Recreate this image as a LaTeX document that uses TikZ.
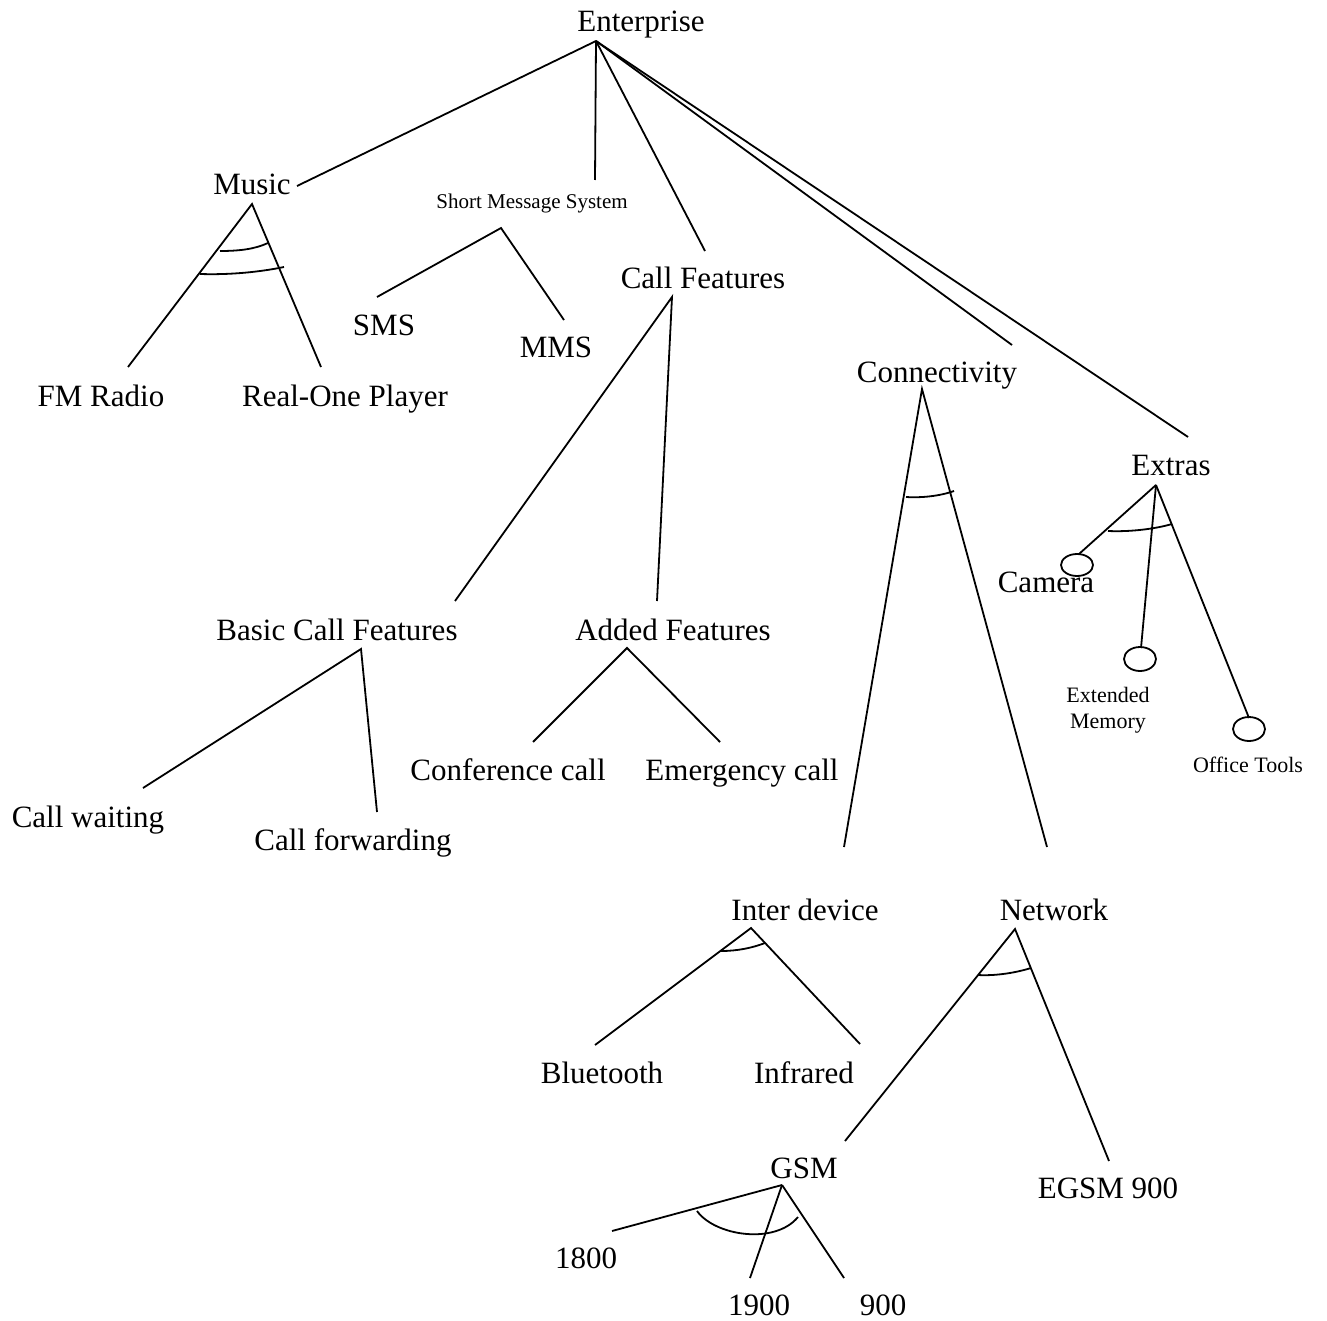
\documentclass[tikz,border=0pt]{standalone}
\usepackage{fontspec}
\setmainfont{Liberation Serif}
\begin{document}
\begin{tikzpicture}[x=1pt,y=-1pt,
  lbl/.style={anchor=base,inner sep=0pt,font=\fontsize{31}{37}\selectfont},
  slbl/.style={anchor=base,inner sep=0pt,font=\fontsize{22}{26}\selectfont},
  tlbl/.style={anchor=base,inner sep=0pt,font=\fontsize{21}{25}\selectfont},
  edge/.style={line width=1.8pt},
  arcl/.style={line width=1.8pt},
  leaf/.style={line width=1.8pt}]
\useasboundingbox (0,0) rectangle (1327,1321);
% labels
\node[lbl] (ent) at (641,32) {Enterprise};
\node[lbl] (music) at (252,195) {Music};
\node[tlbl] (sms-sys) at (532,209) {Short Message System};
\node[lbl] (sms) at (384,335) {SMS};
\node[lbl] (mms) at (556,357) {MMS};
\node[lbl] (callf) at (703,289) {Call Features};
\node[lbl] (fm) at (101,406) {FM Radio};
\node[lbl] (real) at (345,406) {Real-One Player};
\node[lbl] (conn) at (937,382) {Connectivity};
\node[lbl] (extras) at (1171,475) {Extras};
\node[lbl] (camera) at (1046,592) {Camera};
\node[slbl] (extmem) at (1108,702) {Extended};
\node[slbl] (extmem2) at (1108,728) {Memory};
\node[slbl] (office) at (1248,772) {Office Tools};
\node[lbl] (basic) at (337,640) {Basic Call Features};
\node[lbl] (added) at (673,640) {Added Features};
\node[lbl] (waiting) at (88,827) {Call waiting};
\node[lbl] (forward) at (353,850) {Call forwarding};
\node[lbl] (conf) at (508,780) {Conference call};
\node[lbl] (emerg) at (742,780) {Emergency call};
\node[lbl] (inter) at (805,920) {Inter device};
\node[lbl] (network) at (1054,920) {Network};
\node[lbl] (bt) at (602,1083) {Bluetooth};
\node[lbl] (ir) at (804,1083) {Infrared};
\node[lbl] (gsm) at (804,1178) {GSM};
\node[lbl] (egsm) at (1108,1198) {EGSM 900};
\node[lbl] (n1800) at (586,1268) {1800};
\node[lbl] (n1900) at (759,1315) {1900};
\node[lbl] (n900) at (883,1315) {900};
% connector points
\coordinate (ent-a) at (596,41);
\coordinate (music-t) at (297,186);
\coordinate (smss-t) at (595,180);
\coordinate (callf-t) at (705,251);
\coordinate (conn-t) at (1012,345);
\coordinate (extras-t) at (1188,437);
\coordinate (music-a) at (252,204);
\coordinate (fm-t) at (128,367);
\coordinate (real-t) at (321,367);
\coordinate (smss-a) at (501,228);
\coordinate (sms-t) at (377,297);
\coordinate (mms-t) at (564,320);
\coordinate (callf-a) at (672,297);
\coordinate (basic-t) at (455,601);
\coordinate (added-t) at (657,601);
\coordinate (basic-a) at (361,649);
\coordinate (waiting-t) at (143,788);
\coordinate (forward-t) at (377,812);
\coordinate (added-a) at (627,648);
\coordinate (conf-t) at (533,742);
\coordinate (emerg-t) at (720,742);
\coordinate (conn-a) at (922,389);
\coordinate (inter-t) at (844,847);
\coordinate (network-t) at (1047,847);
\coordinate (extras-a) at (1156,485);
\coordinate (camera-t) at (1079,554);
\coordinate (extmem-t) at (1141,648);
\coordinate (office-t) at (1249,718);
\coordinate (camera-c) at (1077,565);
\coordinate (extmem-c) at (1140,659);
\coordinate (office-c) at (1249,729);
\coordinate (inter-a) at (751,928);
\coordinate (bt-t) at (595,1045);
\coordinate (ir-t) at (860,1044);
\coordinate (network-a) at (1015,929);
\coordinate (gsm-t) at (845,1141);
\coordinate (egsm-t) at (1109,1161);
\coordinate (gsm-a) at (782,1185);
\coordinate (n1800-t) at (612,1231);
\coordinate (n1900-t) at (750,1278);
\coordinate (n900-t) at (844,1278);
% connectors
\draw[edge] (ent-a) -- (music-t);
\draw[edge] (ent-a) -- (smss-t);
\draw[edge] (ent-a) -- (callf-t);
\draw[edge] (ent-a) -- (conn-t);
\draw[edge] (ent-a) -- (extras-t);
\draw[edge] (fm-t) -- (music-a) -- (real-t);
\draw[edge] (sms-t) -- (smss-a) -- (mms-t);
\draw[edge] (basic-t) -- (callf-a) -- (added-t);
\draw[edge] (waiting-t) -- (basic-a) -- (forward-t);
\draw[edge] (conf-t) -- (added-a) -- (emerg-t);
\draw[edge] (inter-t) -- (conn-a) -- (network-t);
\draw[edge] (extras-a) -- (camera-t);
\draw[edge] (extras-a) -- (extmem-t);
\draw[edge] (extras-a) -- (office-t);
\draw[edge] (bt-t) -- (inter-a) -- (ir-t);
\draw[edge] (gsm-t) -- (network-a) -- (egsm-t);
\draw[edge] (gsm-a) -- (n1800-t);
\draw[edge] (gsm-a) -- (n1900-t);
\draw[edge] (gsm-a) -- (n900-t);
% optional circles
\draw[leaf] (camera-c) ellipse [x radius=16pt, y radius=11pt];
\draw[leaf] (extmem-c) ellipse [x radius=16pt, y radius=12pt];
\draw[leaf] (office-c) ellipse [x radius=16pt, y radius=12pt];
% arcs
\draw[arcl] (220,251) .. controls (240,251) and (255,249) .. (268,243);
\draw[arcl] (200,274) .. controls (230,275) and (260,272) .. (284,267);
\draw[arcl] (906,497) .. controls (922,498) and (940,496) .. (954,491);
\draw[arcl] (1108,531) .. controls (1130,532) and (1155,529) .. (1172,524);
\draw[arcl] (721,951) .. controls (737,951) and (752,948) .. (765,943);
\draw[arcl] (978,975) .. controls (995,976) and (1015,973) .. (1031,968);
\draw[arcl] (697,1211) .. controls (715,1236) and (775,1245) .. (798,1217);
\end{tikzpicture}
\end{document}
